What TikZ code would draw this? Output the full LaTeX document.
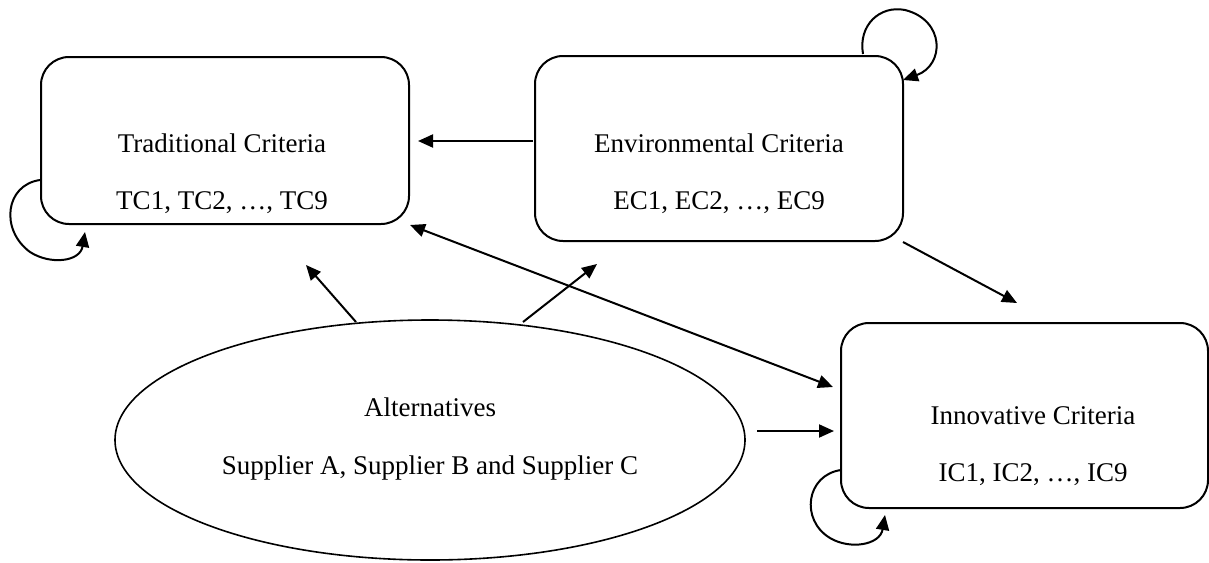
\documentclass[tikz,border=0pt]{standalone}
\usepackage{fontspec}
\setmainfont{Liberation Serif}
\usetikzlibrary{arrows.meta,shapes.geometric}

\begin{document}
\begin{tikzpicture}[x=0.5pt,y=-0.5pt,
  crit/.style={draw, line width=1pt, rounded corners=14pt, inner sep=0pt},
  altshape/.style={draw, ellipse, line width=0.8pt, inner sep=0pt,
                   minimum width=315pt, minimum height=120pt},
  lbl/.style={font=\fontsize{13.5}{16}\selectfont, inner sep=0pt, anchor=base},
  conn/.style={line width=1pt, -{Triangle[length=7.5pt,width=6.5pt]}},
  biconn/.style={line width=1pt, {Triangle[length=7.5pt,width=6.5pt]}-{Triangle[length=7.5pt,width=6.5pt]}},
]
\useasboundingbox (0,0) rectangle (1209,562);

% criteria clusters
\node[crit, minimum width=184pt, minimum height=83.5pt] (trad) at (225,140.5) {};
\node[crit, minimum width=184pt, minimum height=92.5pt] (env) at (719,148.5) {};
\node[crit, minimum width=183.5pt, minimum height=92.5pt] (inno) at (1024.5,415.5) {};
\node[altshape] (alt) at (430,440) {};

% cluster labels
\node[lbl] (tradT) at (222,152) {Traditional Criteria};
\node[lbl] (tradS) at (222,209) {TC1, TC2, \dots, TC9};
\node[lbl] (envT) at (719,152) {Environmental Criteria};
\node[lbl] (envS) at (719,209) {EC1, EC2, \dots, EC9};
\node[lbl] (innoT) at (1033,424) {Innovative Criteria};
\node[lbl] (innoS) at (1033,481) {IC1, IC2, \dots, IC9};
\node[lbl] (altT) at (430,416) {Alternatives};
\node[lbl] (altS) at (430,474) {Supplier A, Supplier B and Supplier C};

% connector end points
\coordinate (e2tA) at (533,141);
\coordinate (e2tB) at (418,141);
\coordinate (t2iA) at (410,225);
\coordinate (t2iB) at (833,387);
\coordinate (e2iA) at (903,242);
\coordinate (e2iB) at (1017,303);
\coordinate (a2tA) at (356,322);
\coordinate (a2tB) at (306,265);
\coordinate (a2eA) at (523,322);
\coordinate (a2eB) at (597,264);
\coordinate (a2iA) at (757,431);
\coordinate (a2iB) at (834,431);

% dependencies between clusters
\draw[conn] (e2tA) -- (e2tB);
\draw[biconn] (t2iA) -- (t2iB);
\draw[conn] (e2iA) -- (e2iB);
\draw[conn] (a2tA) -- (a2tB);
\draw[conn] (a2eA) -- (a2eB);
\draw[conn] (a2iA) -- (a2iB);

% inner dependence loops
\coordinate (tl0) at (40,180);
\coordinate (tl1) at (30,252);
\coordinate (tl2) at (85,232);
\draw[conn] (tl0) .. controls (5,185) and (0,230) .. (tl1)
            .. controls (50,265) and (80,262) .. (tl2);

\coordinate (il0) at (841,470);
\coordinate (il1) at (830,538);
\coordinate (il2) at (885,515);
\draw[conn] (il0) .. controls (806,475) and (800,520) .. (il1)
            .. controls (850,550) and (880,545) .. (il2);

\coordinate (el0) at (863,54);
\coordinate (el1) at (905,10);
\coordinate (el2) at (903,80);
\draw[conn] (el0) .. controls (858,25) and (880,5) .. (el1)
            .. controls (945,20) and (945,65) .. (el2);
\end{tikzpicture}
\end{document}
